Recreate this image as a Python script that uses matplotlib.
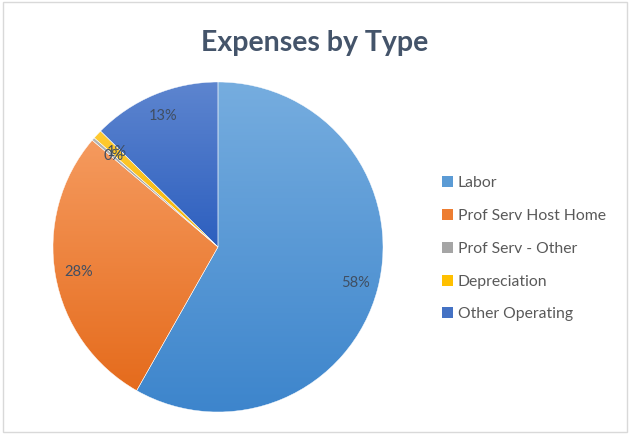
import numpy as np
import matplotlib.pyplot as plt
from matplotlib.colors import LinearSegmentedColormap
from matplotlib.patches import Patch, FancyBboxPatch

# data
labels = ['Labor', 'Prof Serv Host Home', 'Prof Serv - Other', 'Depreciation', 'Other Operating']
values = [58.2, 28.0, 0.3, 0.9, 12.6]
pct_text = ['58%', '28%', '0%', '1%', '13%']
base_colors = ['#5b9bd5', '#ed7d31', '#a5a5a5', '#ffc000', '#4472c4']
# gradient top -> bottom for each wedge
grad = [('#76addf', '#3d85cc'), ('#f59a5e', '#e56b1c'), ('#b4b4b4', '#969696'),
        ('#ffcb33', '#f5b400'), ('#5d85cf', '#2d5fbf')]

fig = plt.figure(figsize=(6.3, 4.34), dpi=100)
# chart border
fig.patches.append(FancyBboxPatch((0.004, 0.005), 0.992, 0.99, boxstyle='square,pad=0',
                                  transform=fig.transFigure, fill=False,
                                  edgecolor='#d9d9d9', linewidth=1.0))

ax = fig.add_axes([53 / 630, 22 / 434, 330 / 630, 330 / 434])
wedges, texts = ax.pie(values, startangle=90, counterclock=False, radius=1,
                       wedgeprops=dict(edgecolor='white', linewidth=0.3))
ax.set_xlim(-1, 1)
ax.set_ylim(-1, 1)
ax.set_aspect('equal')
ax.axis('off')

# gradients inside each wedge
for w, (c1, c2) in zip(wedges, grad):
    ext = w.get_path().get_extents()
    cmap = LinearSegmentedColormap.from_list('g', [c2, c1])
    g = np.linspace(0, 1, 256).reshape(-1, 1)
    im = ax.imshow(g, cmap=cmap, origin='lower', aspect='auto',
                   extent=[ext.x0, ext.x1, ext.y0, ext.y1], zorder=w.get_zorder())
    im.set_clip_path(w)
    w.set_facecolor('none')
    w.set_zorder(w.get_zorder() + 0.1)

# percentage labels
start = 90.0
total = sum(values)
for v, t in zip(values, pct_text):
    ang = start - 360.0 * v / total / 2
    start -= 360.0 * v / total
    r = 0.84 if v < 2 else 0.86
    ax.text(r * np.cos(np.radians(ang)), r * np.sin(np.radians(ang)), t,
            ha='center', va='center', fontsize=10.5, color='#404e62', family='Lato', zorder=5)

fig.text(0.5, 0.9, 'Expenses by Type', ha='center', va='center', fontsize=20.5,
         fontweight='bold', color='#44546a', family='Lato')

handles = [Patch(facecolor=c, edgecolor='none') for c in base_colors]
fig.legend(handles, labels, loc='center left', bbox_to_anchor=(0.679, 0.427),
           frameon=False, labelspacing=1.2, handlelength=0.7,
           handleheight=0.7, handletextpad=0.3, labelcolor='#595959',
           prop={'family': 'Lato', 'size': 11.3})

fig.savefig('out.png', dpi=100)
